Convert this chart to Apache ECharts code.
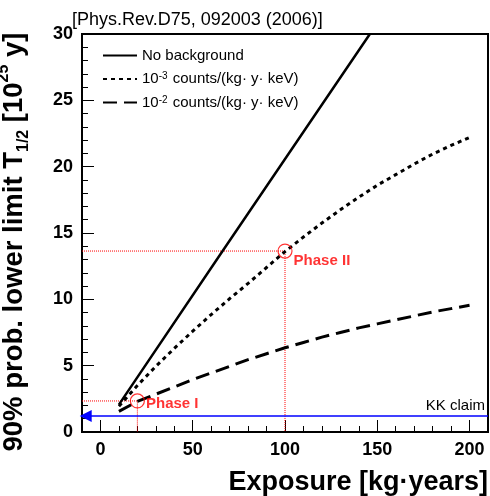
<!DOCTYPE html>
<html>
<head>
<meta charset="UTF-8">
<title>0vbb half-life limit vs exposure</title>
<script src="https://cdn.jsdelivr.net/npm/echarts@6/dist/echarts.min.js"></script>
<style>
  html, body { margin: 0; padding: 0; background: #fff; }
  #main { width: 490px; height: 496px; }
</style>
</head>
<body>
<div id="main"></div>
<script>
// values
var exposure = [10, 20, 30, 40, 50, 60, 70, 80, 90, 100, 110, 120, 130, 140, 150, 160, 170, 180, 190, 200];
var bkg3 = [1.95, 3.5, 4.95, 6.3, 7.6, 8.85, 10.05, 11.2, 12.4, 13.6, 14.7, 15.75, 16.75, 17.7, 18.6, 19.4, 20.2, 20.95, 21.6, 22.2];
var bkg2 = [1.55, 2.3, 2.85, 3.4, 3.95, 4.45, 4.95, 5.45, 5.9, 6.35, 6.75, 7.15, 7.5, 7.85, 8.15, 8.45, 8.75, 9.05, 9.3, 9.55];
var noBkgX = [10, 66, 146];
var noBkgY = [2.06, 13.6, 30.0];
var phaseX = [20, 100];
var phaseY = [2.34, 13.64];
var phaseNames = ['Phase I', 'Phase II'];
var kkClaim = 1.2;
var xLabels = [0, 50, 100, 150, 200];

var FONT = 'Liberation Sans';

function pairs(xs, ys) {
  var out = [];
  for (var i = 0; i < xs.length; i++) out.push([xs[i], ys[i]]);
  return out;
}

var legendText = {
  'No background': 'No background',
  'bkg3': '10{sup|-3} counts/(kg· y· keV)',
  'bkg2': '10{sup|-2} counts/(kg· y· keV)'
};

var myChart = echarts.init(document.getElementById('main'));

var guides = [];
for (var i = 0; i < phaseX.length; i++) {
  guides.push({
    type: 'line',
    silent: true,
    symbol: 'none',
    z: 1,
    lineStyle: { color: '#ff0000', width: 1, type: [1, 1] },
    data: [[-10, phaseY[i]], [phaseX[i], phaseY[i]], [phaseX[i], 0]]
  });
}

var phaseOffsets = [[0, 2.5], [0, 10]];
var phaseData = [];
for (var j = 0; j < phaseX.length; j++) {
  phaseData.push({
    value: [phaseX[j], phaseY[j]],
    label: { offset: phaseOffsets[j] }
  });
}

var option = {
  animation: false,
  backgroundColor: '#fff',
  title: {
    text: '[Phys.Rev.D75, 092003 (2006)]',
    left: 67,
    top: 6,
    textStyle: { fontFamily: FONT, fontSize: 18, fontWeight: 'normal', color: '#000' }
  },
  legend: {
    data: ['No background', 'bkg3', 'bkg2'],
    orient: 'vertical',
    left: 97,
    top: 43,
    itemWidth: 34,
    itemHeight: 14,
    itemGap: 8.5,
    itemStyle: { color: 'rgba(0,0,0,0)', borderWidth: 0, opacity: 0 },
    formatter: function (name) { return legendText[name]; },
    textStyle: {
      fontFamily: FONT, fontSize: 15, color: '#000',
      rich: { sup: { fontFamily: FONT, fontSize: 10, verticalAlign: 'top', lineHeight: 10, padding: [0, 1, 0, 0] } }
    }
  },
  grid: {
    left: 82, right: 2, top: 34, bottom: 64,
    outerBoundsMode: 'none',
    containLabel: false,
    show: true, borderColor: '#000', borderWidth: 2, backgroundColor: 'transparent'
  },
  xAxis: [
    {
      type: 'value', min: -10, max: 210, splitNumber: 5, position: 'bottom',
      name: 'Exposure [kg·years]',
      nameLocation: 'end',
      nameGap: 0,
      nameTextStyle: {
        fontFamily: FONT, fontSize: 27, fontWeight: 'bold', color: '#000',
        align: 'right', verticalAlign: 'top', padding: [37, 0, 0, 0]
      },
      axisLine: { show: true, onZero: false, lineStyle: { color: '#000', width: 2 } },
      axisTick: { show: true, inside: true, length: 12, lineStyle: { color: '#000', width: 1 } },
      axisLabel: {
        show: true, margin: 9, showMinLabel: false, showMaxLabel: false,
        fontFamily: FONT, fontSize: 18, fontWeight: 'bold', color: '#000',
        formatter: function (v) { return xLabels.indexOf(v) >= 0 ? String(v) : ''; }
      },
      splitLine: { show: false }
    },
    {
      type: 'value', min: -10, max: 210, interval: 10, position: 'bottom',
      axisLine: { show: false, onZero: false },
      axisTick: { show: true, inside: true, length: 6, lineStyle: { color: '#000', width: 1 } },
      axisLabel: { show: false },
      splitLine: { show: false }
    }
  ],
  yAxis: {
    type: 'value', min: 0, max: 30, interval: 5,
    name: '90% prob. lower limit T{sub|1/2} [10{sup|25} y]',
    nameLocation: 'middle',
    nameGap: 50,
    nameMoveOverlap: false,
    nameTextStyle: {
      fontFamily: FONT, fontSize: 27.5, fontWeight: 'bold', color: '#000', lineHeight: 36,
      padding: [0, 18, 0, 0],
      rich: {
        sub: { fontFamily: FONT, fontSize: 16, fontWeight: 'bold', color: '#000', verticalAlign: 'bottom', lineHeight: 16 },
        sup: { fontFamily: FONT, fontSize: 16, fontWeight: 'bold', color: '#000', verticalAlign: 'top', lineHeight: 16 }
      }
    },
    axisLine: { show: true, onZero: false, lineStyle: { color: '#000', width: 2 } },
    axisTick: { show: true, inside: true, length: 12, lineStyle: { color: '#000', width: 1 } },
    minorTick: { show: true, splitNumber: 5, length: 6, lineStyle: { color: '#000', width: 1 } },
    axisLabel: {
      margin: 9, align: 'right', showMaxLabel: true, hideOverlap: false,
      fontFamily: FONT, fontSize: 18, fontWeight: 'bold', color: '#000'
    },
    splitLine: { show: false },
    minorSplitLine: { show: false }
  },
  series: [
    {
      name: 'No background', type: 'line', symbol: 'none', z: 3,
      lineStyle: { color: '#000', width: 2.5, type: 'solid' },
      itemStyle: { color: '#000' },
      data: pairs(noBkgX, noBkgY)
    },
    {
      name: 'bkg3', type: 'line', symbol: 'none', z: 3,
      lineStyle: { color: '#000', width: 3, type: [4, 4] },
      itemStyle: { color: '#000' },
      data: pairs(exposure, bkg3)
    },
    {
      name: 'bkg2', type: 'line', symbol: 'none', z: 3,
      lineStyle: { color: '#000', width: 3, type: [14, 7] },
      itemStyle: { color: '#000' },
      data: pairs(exposure, bkg2)
    },
    guides[0],
    guides[1],
    {
      type: 'scatter', silent: true, z: 4,
      symbol: 'circle', symbolSize: 14,
      itemStyle: { color: 'rgba(0,0,0,0)', borderColor: '#ff0000', borderWidth: 1.2 },
      label: {
        show: true, position: 'right', distance: 1,
        fontFamily: FONT, fontSize: 15, fontWeight: 'bold', color: '#ff0000',
        formatter: function (p) { return phaseNames[p.dataIndex]; }
      },
      data: phaseData
    },
    {
      type: 'line', silent: true, symbol: 'none', data: [],
      markLine: {
        silent: true,
        symbol: ['triangle', 'none'],
        symbolSize: [12, 12],
        lineStyle: { color: '#0000ff', width: 1.5, type: 'solid' },
        label: {
          show: true, position: 'insideEndTop', distance: 3,
          formatter: 'KK claim', fontFamily: FONT, fontSize: 15, color: '#000'
        },
        data: [[{ coord: [-8, kkClaim] }, { coord: [210, kkClaim] }]]
      }
    }
  ]
};
myChart.setOption(option);
</script>
</body>
</html>
